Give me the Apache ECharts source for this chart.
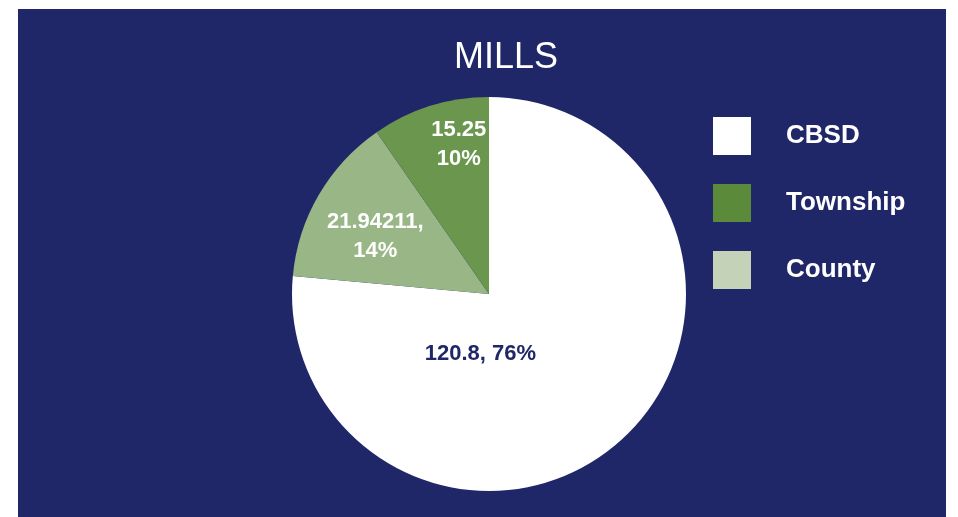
<!DOCTYPE html>
<html>
<head>
<meta charset="utf-8">
<script src="https://cdn.jsdelivr.net/npm/echarts@6/dist/echarts.min.js"></script>
<style>
    html, body { margin: 0; padding: 0; background: #ffffff; }
    #main { width: 958px; height: 517px; }
</style>
</head>
<body>
<div id="main"></div>
<script>
// data, clockwise from 12 o'clock
var names = ['CBSD', 'County', 'Township'];
var values = [120.8, 21.94211, 15.25];
var pcts = [76, 14, 10];
// legend order as shown
var legendNames = ['CBSD', 'Township', 'County'];

var sliceColors = {'CBSD': '#ffffff', 'County': '#98b686', 'Township': '#6a964e'};
var legendColors = {'CBSD': '#ffffff', 'County': '#c4d3b8', 'Township': '#5a8a3a'};
var labelColors = {'CBSD': '#1f2769', 'County': '#ffffff', 'Township': '#ffffff'};
// label text layout like the original
var labelFmt = {
    'CBSD': function(v, p) { return v + ', ' + p + '%'; },
    'County': function(v, p) { return v + ',\n' + p + '%'; },
    'Township': function(v, p) { return v + '\n' + p + '%'; }
};
// nudge labels to where the original put them
var labelShift = {'CBSD': [-77, -15], 'County': [-26, -6], 'Township': [0, -53]};

var dom = document.getElementById('main');
var myChart = echarts.init(dom);

var pieData = [];
for (var i = 0; i < names.length; i++) {
    pieData.push({
        name: names[i],
        value: values[i],
        itemStyle: { color: sliceColors[names[i]] },
        label: {
            color: labelColors[names[i]],
            formatter: labelFmt[names[i]](values[i], pcts[i])
        }
    });
}

var legendData = legendNames.map(function(n) {
    return { name: n, icon: 'rect', itemStyle: { color: legendColors[n] } };
});

var option = {
    backgroundColor: '#ffffff',
    animation: false,
    graphic: [{
        type: 'rect',
        z: -10,
        shape: { x: 18, y: 9, width: 928, height: 508 },
        style: { fill: '#1f2769' }
    }],
    title: {
        text: 'MILLS',
        left: 501,
        textAlign: 'center',
        top: 35,
        textStyle: {
            color: '#ffffff',
            fontSize: 36,
            fontWeight: 'normal',
            fontFamily: 'Liberation Sans'
        }
    },
    legend: {
        orient: 'vertical',
        left: 708,
        top: 112,
        itemWidth: 38,
        itemHeight: 38,
        itemGap: 29,
        selectedMode: false,
        data: legendData,
        textStyle: {
            color: '#ffffff',
            fontSize: 26,
            fontWeight: 'bold',
            fontFamily: 'Liberation Sans',
            padding: [0, 0, 28, 30]
        }
    },
    series: [{
        type: 'pie',
        center: [489, 294],
        radius: 197,
        startAngle: 90,
        clockwise: true,
        silent: true,
        data: pieData,
        label: {
            show: true,
            position: 'inside',
            fontSize: 22,
            lineHeight: 29,
            fontWeight: 'bold',
            fontFamily: 'Liberation Sans',
            align: 'center'
        },
        labelLine: { show: false },
        labelLayout: function(params) {
            var s = labelShift[names[params.dataIndex]];
            return { dx: s[0], dy: s[1] };
        },
        itemStyle: {
            borderWidth: 0
        }
    }]
};

window.onresize = function() {
    myChart.resize();
};
if (option && typeof option === "object") {
    myChart.setOption(option, true);
}
</script>
</body>
</html>
